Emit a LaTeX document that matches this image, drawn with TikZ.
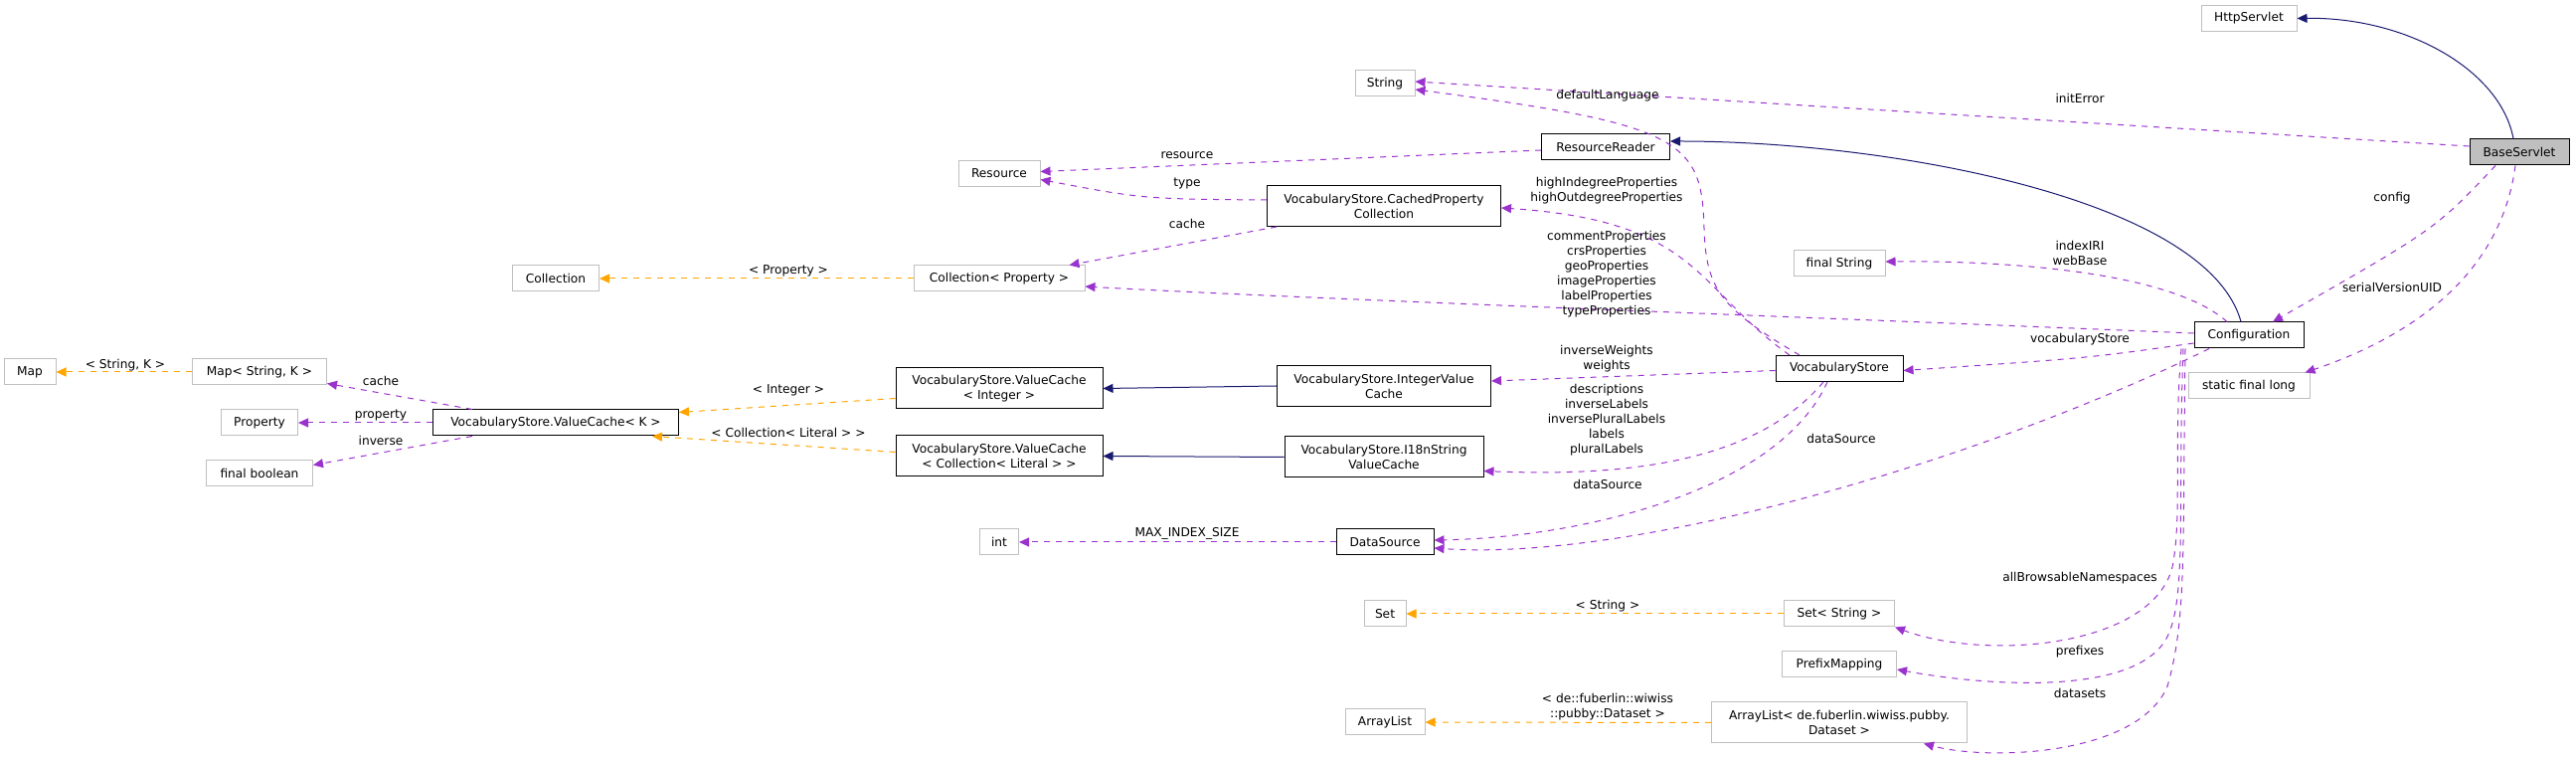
\documentclass[tikz,border=0pt]{standalone}
\usepackage{fontspec}
\setmainfont{DejaVu Sans}
\usetikzlibrary{arrows.meta}
\definecolor{purp}{HTML}{9A32CD}
\definecolor{orng}{HTML}{FFA500}
\definecolor{navy}{HTML}{191970}
\definecolor{gry}{HTML}{BFBFBF}
\begin{document}
\begin{tikzpicture}[x=0.5pt,y=-0.5pt,
  every node/.style={font=\fontsize{6.1}{7.5}\selectfont, inner sep=0pt, align=center},
  box/.style={draw=black, line width=0.5pt, minimum height=13pt, fill=white},
  gbox/.style={draw=gry, line width=0.5pt, minimum height=13pt, fill=white},
  tall/.style={minimum height=20.5pt},
  mem/.style={draw=purp, dashed, line width=0.5pt, -{Triangle[length=5pt,width=4.5pt]}},
  tpl/.style={draw=orng, dashed, line width=0.5pt, -{Triangle[length=5pt,width=4.5pt]}},
  inh/.style={draw=navy, line width=0.5pt, -{Triangle[length=5pt,width=4.5pt]}},
  lbl/.style={fill=none}]
\useasboundingbox (0,0) rectangle (2591,763);
% nodes
\node[gbox, minimum width=48pt] (http) at (2262,18.5) {HttpServlet};
\node[box, fill=gry, minimum width=50pt] (base) at (2534,153) {BaseServlet};
\node[gbox, minimum width=30pt] (string) at (1393,84) {String};
\node[box, minimum width=64.5pt] (rr) at (1615,148) {ResourceReader};
\node[box, tall, minimum width=117.5pt] (cpc) at (1392,207) {VocabularyStore.CachedProperty\\Collection};
\node[gbox, minimum width=41pt] (resource) at (1005,174.5) {Resource};
\node[gbox, minimum width=43.5pt] (coll) at (559,280) {Collection};
\node[gbox, minimum width=86pt] (collp) at (1005,280) {Collection< Property >};
\node[gbox, minimum width=26pt] (map) at (30,374) {Map};
\node[gbox, minimum width=67.5pt] (mapsk) at (261,374) {Map< String, K >};
\node[gbox, minimum width=38.5pt] (property) at (261,425) {Property};
\node[gbox, minimum width=53.5pt] (fbool) at (261,476) {final boolean};
\node[box, minimum width=123.5pt] (vck) at (559,425) {VocabularyStore.ValueCache< K >};
\node[box, tall, minimum width=104pt] (vci) at (1005,390.5) {VocabularyStore.ValueCache\\< Integer >};
\node[box, tall, minimum width=104pt] (vcc) at (1005,458.5) {VocabularyStore.ValueCache\\< Collection< Literal > >};
\node[box, tall, minimum width=107.5pt] (ivc) at (1392,388) {VocabularyStore.IntegerValue\\Cache};
\node[box, tall, minimum width=100pt] (i18) at (1392,459.5) {VocabularyStore.I18nString\\ValueCache};
\node[gbox, minimum width=19.5pt] (int) at (1005,545) {int};
\node[box, minimum width=49pt] (ds) at (1393,545) {DataSource};
\node[box, minimum width=64pt] (vs) at (1850,370.5) {VocabularyStore};
\node[gbox, minimum width=46pt] (fstr) at (1850,265) {final String};
\node[box, minimum width=55pt] (conf) at (2262,337) {Configuration};
\node[gbox, minimum width=61pt] (sfl) at (2262,388) {static final long};
\node[gbox, minimum width=21pt] (set) at (1393,617) {Set};
\node[gbox, minimum width=55.5pt] (sets) at (1850,617) {Set< String >};
\node[gbox, minimum width=57.5pt] (pm) at (1850,668) {PrefixMapping};
\node[gbox, minimum width=40pt] (al) at (1393,726) {ArrayList};
\node[gbox, tall, minimum width=128.5pt] (ald) at (1850,726.5) {ArrayList< de.fuberlin.wiwiss.pubby.\\Dataset >};
% edges
\draw[inh] ([xshift=-3pt]base.north) .. controls (2515,70) and (2420,17) .. (http.east);
\draw[mem] ([yshift=3pt]base.west) -- ([yshift=1pt]string.east);
\draw[inh] ([xshift=-4pt]conf.north) .. controls (2220,200) and (1900,142) .. ([yshift=3pt]rr.east);
\draw[mem] ([yshift=-1.5pt]rr.west) -- ([yshift=1pt]resource.east);
\draw[mem] ([yshift=3pt]cpc.west) .. controls (1150,200) .. ([yshift=-3pt]resource.east);
\draw[mem] ([xshift=5pt]cpc.south west) -- ([xshift=-8pt]collp.north east);
\draw[tpl] (collp.west) -- (coll.east);
\draw[mem] ([yshift=1pt]conf.west) .. controls (1900,322) and (1300,300) .. ([yshift=-4pt]collp.east);
\draw[mem] ([xshift=-20pt]vs.north) .. controls (1730,310) and (1716,290) .. (1714,230) .. controls (1712,140) and (1690,125) .. ([yshift=-3pt]string.east);
\draw[mem] ([xshift=-25pt]vs.north) .. controls (1705,290) and (1710,222) .. ([yshift=-1pt]cpc.east);
\draw[tpl] (mapsk.west) -- (map.east);
\draw[mem] ([xshift=-42pt]vck.north) -- ([yshift=1pt]mapsk.south east);
\draw[mem] (vck.west) -- (property.east);
\draw[mem] ([xshift=-42pt]vck.south) -- ([yshift=-2.5pt]fbool.north east);
\draw[tpl] ([yshift=-5pt]vci.west) -- ([yshift=-1.5pt]vck.north east);
\draw[tpl] ([yshift=2pt]vcc.west) -- ([xshift=-13.5pt]vck.south east);
\draw[inh] (ivc.west) -- (vci.east);
\draw[inh] (i18.west) -- (vcc.east);
\draw[mem] ([yshift=-1pt]vs.west) -- ([yshift=2.5pt]ivc.east);
\draw[mem] ([xshift=-8pt]vs.south) .. controls (1770,460) and (1650,480) .. ([yshift=-7pt]i18.east);
\draw[mem] ([xshift=-6pt]vs.south) .. controls (1790,490) and (1600,540) .. ([yshift=1pt]ds.east);
\draw[mem] ([xshift=-20pt]conf.south) .. controls (2000,460) and (1650,565) .. ([yshift=-3pt]ds.east);
\draw[mem] (ds.west) -- (int.east);
\draw[mem] ([xshift=-11pt]conf.north) .. controls (2180,270) and (2000,262) .. ([yshift=1pt]fstr.east);
\draw[mem] ([yshift=-4pt]conf.west) .. controls (2100,360) .. ([yshift=-1pt]vs.east);
\draw[mem] ([xshift=-12pt]base.south) .. controls (2450,230) .. ([xshift=12pt]conf.north);
\draw[mem] ([xshift=-2pt]base.south) .. controls (2515,280) and (2420,340) .. ([xshift=-2.5pt]sfl.north east);
\draw[mem] ([xshift=-34pt]conf.south) .. controls (2186,450) and (2195,520) .. (2185,570) .. controls (2165,650) and (2000,665) .. (sets.south east);
\draw[mem] ([xshift=-33pt]conf.south) .. controls (2190,500) and (2200,600) .. (2180,640) .. controls (2150,700) and (2000,690) .. ([yshift=-2.5pt]pm.east);
\draw[mem] ([xshift=-32pt]conf.south) .. controls (2195,550) and (2200,620) .. (2180,690) .. controls (2150,760) and (2000,765) .. ([xshift=-22pt]ald.south east);
\draw[tpl] (sets.west) -- (set.east);
\draw[tpl] (ald.west) -- (al.east);
% labels
\node[lbl] (l1) at (2092,99) {initError};
\node[lbl] (l2) at (1617,96) {defaultLanguage};
\node[lbl] (l3) at (1194,156) {resource};
\node[lbl] (l4) at (1194,184) {type};
\node[lbl] (l5) at (1194,225) {cache};
\node[lbl] (l6) at (1616,192) {highIndegreeProperties\\highOutdegreeProperties};
\node[lbl] (l7) at (793,272) {< Property >};
\node[lbl] (l8) at (1616,276) {commentProperties\\crsProperties\\geoProperties\\imageProperties\\labelProperties\\typeProperties};
\node[lbl] (l9) at (2092,254) {indexIRI\\webBase};
\node[lbl] (l10) at (2406,199) {config};
\node[lbl] (l11) at (2406,289) {serialVersionUID};
\node[lbl] (l12) at (2092,341) {vocabularyStore};
\node[lbl] (l13) at (1616,361) {inverseWeights\\weights};
\node[lbl] (l14) at (1616,422) {descriptions\\inverseLabels\\inversePluralLabels\\labels\\pluralLabels};
\node[lbl] (l15) at (1617,487) {dataSource};
\node[lbl] (l16) at (1852,441) {dataSource};
\node[lbl] (l17) at (1194,536) {MAX\_INDEX\_SIZE};
\node[lbl] (l18) at (126,367) {< String, K >};
\node[lbl] (l19) at (383,383) {cache};
\node[lbl] (l20) at (383,417) {property};
\node[lbl] (l21) at (383,443) {inverse};
\node[lbl] (l22) at (793,392) {< Integer >};
\node[lbl] (l23) at (793,435) {< Collection< Literal > >};
\node[lbl] (l24) at (2092,581) {allBrowsableNamespaces};
\node[lbl] (l25) at (1617,609) {< String >};
\node[lbl] (l26) at (2092,655) {prefixes};
\node[lbl] (l27) at (2092,697) {datasets};
\node[lbl] (l28) at (1617,711) {< de::fuberlin::wiwiss\\::pubby::Dataset >};
\end{tikzpicture}
\end{document}
